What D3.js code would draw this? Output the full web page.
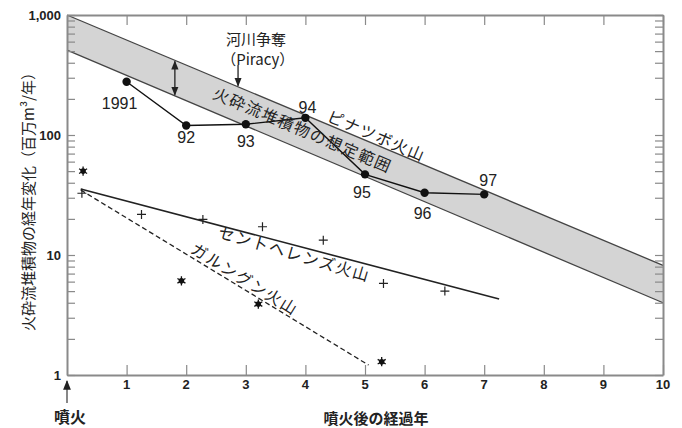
<!DOCTYPE html>
<meta charset="utf-8">
<style>
  body { margin: 0; background: #fff; }
  svg { position: absolute; top: 0; left: 0; }
  .tick-lbl { font-family: "Liberation Sans", Arial, sans-serif; font-size: 13px; font-weight: bold; fill: #222; }
  .yr { font-family: "Liberation Sans", Arial, sans-serif; font-size: 16px; fill: #222; text-anchor: middle; dominant-baseline: central; }
  .jp { font-family: "Noto Sans CJK JP", sans-serif; fill: #222; }
</style>
<script src="https://cdn.jsdelivr.net/npm/d3@7"></script>
<svg width="682" height="428"></svg>
<script>
// --- data ---
var bandX = [0, 10];
var bandUpper = [1000, 8.2];
var bandLower = [510, 4.0];

var pinaX = [1, 2, 3, 4, 5, 6, 7];
var pinaY = [278, 120, 123, 139, 47, 33, 32];
var pinaLabels = ["1991", "92", "93", "94", "95", "96", "97"];
// label offsets (px) from each point
var pinaDx = [-7, 0, 0, 2, -3, -2, 4];
var pinaDy = [22, 12, 17, -10, 18, 21, -14];

var helensX = [0.25, 1.25, 2.28, 3.28, 4.3, 5.31, 6.34];
var helensY = [32.7, 21.8, 19.8, 17.2, 13.3, 5.8, 5.0];
var helensFitX = [0.23, 7.25];
var helensFitY = [35.5, 4.3];

var galX = [0.27, 1.92, 3.21, 5.28];
var galY = [50, 6.1, 3.9, 1.29];
var galFitX = [0.23, 5.06];
var galFitY = [34.8, 1.21];

var xTicks = [1, 2, 3, 4, 5, 6, 7, 8, 9, 10];
var yMajor = [1, 10, 100, 1000];
var yLabels = ["1", "10", "100", "1,000"];

var svg = d3.select("svg"),
    pL = 67, pR = 663, pT = 15, pB = 375;

var x = d3.scaleLinear().domain([0, 10]).range([pL, pR]);
var y = d3.scaleLog().domain([1, 1000]).range([pB, pT]);

var g = svg.append("g");

// band (assumed range)
var band = d3.area()
  .x(function(d, i) { return x(bandX[i]); })
  .y0(function(d, i) { return y(bandLower[i]); })
  .y1(function(d, i) { return y(bandUpper[i]); });
g.append("path").datum(bandX).attr("d", band)
  .attr("fill", "#d4d4d4").attr("stroke", "none");
var line2 = d3.line().x(function(d) { return x(d[0]); }).y(function(d) { return y(d[1]); });
g.append("path").datum(d3.zip(bandX, bandUpper)).attr("d", line2)
  .attr("fill", "none").attr("stroke", "#444").attr("stroke-width", 1.3);
g.append("path").datum(d3.zip(bandX, bandLower)).attr("d", line2)
  .attr("fill", "none").attr("stroke", "#444").attr("stroke-width", 1.3);

// frame + ticks
var minorVals = [];
[1, 10, 100].forEach(function(b) { for (var k = 2; k <= 9; k++) minorVals.push(b * k); });

g.append("g").attr("transform", "translate(" + pL + ",0)")
  .call(d3.axisRight(y).tickValues(yMajor.concat(minorVals)).tickFormat("")
    .tickSizeInner(8).tickSizeOuter(0));
g.append("g").attr("transform", "translate(" + pR + ",0)")
  .call(d3.axisLeft(y).tickValues(yMajor.concat(minorVals)).tickFormat("")
    .tickSizeInner(8).tickSizeOuter(0));
g.append("g").attr("transform", "translate(0," + pB + ")")
  .call(d3.axisTop(x).tickValues(xTicks).tickFormat("").tickSizeInner(10).tickSizeOuter(0));
g.append("g").attr("transform", "translate(0," + pT + ")")
  .call(d3.axisBottom(x).tickValues(xTicks).tickFormat("").tickSizeInner(10).tickSizeOuter(0));
g.selectAll(".domain").attr("stroke", "#8a8a8a").attr("stroke-width", 2);
g.selectAll(".tick line").attr("stroke", "#8a8a8a").attr("stroke-width", 1.2);

// tick labels
g.selectAll(".ylbl").data(yMajor).enter().append("text")
  .attr("class", "tick-lbl")
  .attr("x", pL - 6).attr("y", function(d) { return y(d); })
  .attr("text-anchor", "end").attr("dominant-baseline", "central")
  .text(function(d, i) { return yLabels[i]; });
g.selectAll(".xlbl").data(xTicks).enter().append("text")
  .attr("class", "tick-lbl")
  .attr("x", function(d) { return x(d); }).attr("y", pB + 9)
  .attr("text-anchor", "middle").attr("dominant-baseline", "central")
  .text(function(d) { return d; });

// St. Helens
g.append("path").datum(d3.zip(helensFitX, helensFitY)).attr("d", line2)
  .attr("fill", "none").attr("stroke", "#222").attr("stroke-width", 1.6);
g.selectAll(".plus").data(d3.zip(helensX, helensY)).enter().append("path")
  .attr("transform", function(d) { return "translate(" + x(d[0]) + "," + y(d[1]) + ")"; })
  .attr("d", "M-4.5,0H4.5M0,-4.5V4.5")
  .attr("stroke", "#222").attr("stroke-width", 1.2);

// Galunggung
g.append("path").datum(d3.zip(galFitX, galFitY)).attr("d", line2)
  .attr("fill", "none").attr("stroke", "#222").attr("stroke-width", 1.3)
  .attr("stroke-dasharray", "5,3");
var star = g.selectAll(".star").data(d3.zip(galX, galY)).enter().append("g")
  .attr("transform", function(d) { return "translate(" + x(d[0]) + "," + y(d[1]) + ")"; });
star.append("circle").attr("r", 2.8).attr("fill", "#111");
star.append("path").attr("d", d3.symbol(d3.symbolAsterisk, 60))
  .attr("stroke", "#111").attr("stroke-width", 1.3).attr("fill", "none");

// Pinatubo
g.append("path").datum(d3.zip(pinaX, pinaY)).attr("d", line2)
  .attr("fill", "none").attr("stroke", "#111").attr("stroke-width", 1.4);
g.selectAll(".pt").data(d3.zip(pinaX, pinaY)).enter().append("circle")
  .attr("cx", function(d) { return x(d[0]); }).attr("cy", function(d) { return y(d[1]); })
  .attr("r", 4.2).attr("fill", "#111");
g.selectAll(".yr").data(d3.zip(pinaX, pinaY)).enter().append("text")
  .attr("class", "yr")
  .attr("x", function(d, i) { return x(d[0]) + pinaDx[i]; })
  .attr("y", function(d, i) { return y(d[1]) + pinaDy[i]; })
  .text(function(d, i) { return pinaLabels[i]; });

// rotated names
var names = [
  { t: "火砕流堆積物の想定範囲", x: 3.96, y: 112, a: 23 },
  { t: "ピナツボ火山", x: 5.2, y: 100, a: 23.3 },
  { t: "セントヘレンズ火山", x: 3.82, y: 10.4, a: 16.5 },
  { t: "ガルングン火山", x: 2.99, y: 6.4, a: 31.5 }
];
g.selectAll(".nm").data(names).enter().append("text")
  .attr("class", "jp")
  .attr("transform", function(d) { return "translate(" + x(d.x) + "," + y(d.y) + ") rotate(" + d.a + ")"; })
  .attr("text-anchor", "middle").attr("dominant-baseline", "central")
  .style("font-size", "16px").style("letter-spacing", "1.5px")
  .text(function(d) { return d.t; });

// arrows
var defs = svg.append("defs");
defs.append("marker").attr("id", "ah").attr("viewBox", "0 0 10 10")
  .attr("refX", 9).attr("refY", 5).attr("markerWidth", 7).attr("markerHeight", 7)
  .attr("orient", "auto-start-reverse")
  .append("path").attr("d", "M0,1L10,5L0,9Z").attr("fill", "#222");

function bandAt(xv, ends) {
  return Math.pow(10, Math.log10(ends[0]) + xv / 10 * Math.log10(ends[1] / ends[0]));
}

var dblX = 1.81;
g.append("line")
  .attr("x1", x(dblX)).attr("x2", x(dblX))
  .attr("y1", y(bandAt(dblX, bandUpper)) + 1)
  .attr("y2", y(bandAt(dblX, bandLower)) - 1)
  .attr("stroke", "#222").attr("stroke-width", 1.3)
  .attr("marker-start", "url(#ah)").attr("marker-end", "url(#ah)");

var pirX = 2.87;
g.append("line")
  .attr("x1", x(pirX)).attr("x2", x(pirX))
  .attr("y1", 65).attr("y2", y(bandAt(pirX, bandUpper)) - 1)
  .attr("stroke", "#222").attr("stroke-width", 1.3)
  .attr("marker-end", "url(#ah)");
g.append("text").attr("class", "jp").attr("x", x(3.17)).attr("y", 38)
  .attr("text-anchor", "middle").attr("dominant-baseline", "central")
  .style("font-size", "15px").text("河川争奪");
g.append("text").attr("class", "jp").attr("x", x(3.2)).attr("y", 58)
  .attr("text-anchor", "middle").attr("dominant-baseline", "central")
  .style("font-size", "15px").text("（Piracy）");

// eruption arrow
g.append("line").attr("x1", x(0)).attr("x2", x(0)).attr("y1", 403).attr("y2", 381)
  .attr("stroke", "#555").attr("stroke-width", 1.4).attr("marker-end", "url(#ah)");
g.append("text").attr("class", "jp").attr("x", x(0) + 3).attr("y", 416)
  .attr("text-anchor", "middle").attr("dominant-baseline", "central")
  .style("font-size", "16px").style("font-weight", "bold").text("噴火");

// axis titles
g.append("text").attr("class", "jp").attr("x", 376).attr("y", 417)
  .attr("text-anchor", "middle").attr("dominant-baseline", "central")
  .style("font-size", "15px").style("font-weight", "bold").text("噴火後の経過年");
g.append("text").attr("class", "jp")
  .attr("transform", "translate(27,198) rotate(-90)")
  .attr("text-anchor", "middle").attr("dominant-baseline", "central")
  .style("font-size", "15px").text("火砕流堆積物の経年変化（百万m³/年）");
</script>
